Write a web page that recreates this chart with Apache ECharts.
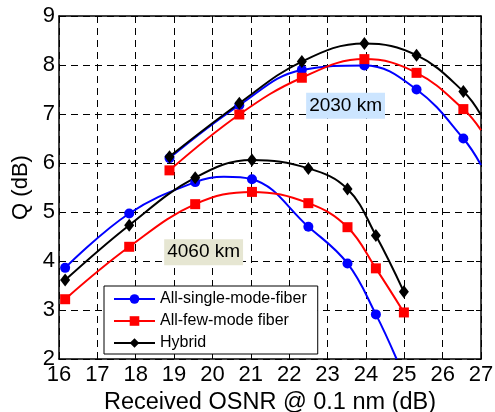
<!DOCTYPE html>
<html>
<head>
<meta charset="utf-8">
<title>Q vs OSNR</title>
<script src="https://cdn.jsdelivr.net/npm/echarts@6/dist/echarts.min.js"></script>
<style>
    html, body { margin: 0; padding: 0; background: #fff; }
    #chart { width: 495px; height: 412px; }
</style>
</head>
<body>
<div id="chart"></div>
<script>
// received OSNR at the measured points (dB)
const osnr2030 = [18.88, 20.70, 22.33, 23.96, 25.32, 26.54];
const osnr4060 = [16.16, 17.83, 19.55, 21.03, 22.50, 23.52, 24.26, 24.99];

// Q (dB) markers, 2030 km
const smf2030 = [6.10, 7.18, 7.90, 7.99, 7.50, 6.50];
const fmf2030 = [5.85, 6.99, 7.74, 8.12, 7.84, 7.10];
const hyb2030 = [6.13, 7.22, 8.07, 8.44, 8.20, 7.46];

// Q (dB) markers, 4060 km
const smf4060 = [3.86, 4.97, 5.61, 5.67, 4.70, 3.95, 2.91, null];
const fmf4060 = [3.22, 4.29, 5.16, 5.41, 5.18, 4.69, 3.85, 2.95];
const hyb4060 = [3.61, 4.73, 5.70, 6.06, 5.89, 5.47, 4.52, 3.37];

// points on the fitted curves where there is no marker
const smf2030Curve = [[27, 5.96]];
const fmf2030Curve = [[27, 6.67]];
const hyb2030Curve = [[27, 6.98]];
const smf4060Curve = [[20.3, 5.72], [24.8, 2.0]];

const seriesNames = ['All-single-mode-fiber', 'All-few-mode fiber', 'Hybrid'];
const xTicks = [16, 27];
const yTicks = [2, 9];

// annotation labels [x, y, text, background]
const notes = [
    [23.47, 7.17, '2030 km', '#cce5ff'],
    [19.77, 4.18, '4060 km', '#e6e6d2']
];

const FONT = '"Liberation Sans", Arial, sans-serif';

// 合并标记点和曲线点
function buildData(xs, ys, curve) {
    const pts = [];
    xs.forEach((x, i) => {
        if (ys[i] != null) pts.push({ value: [x, ys[i]] });
    });
    (curve || []).forEach(p => {
        pts.push({ value: p, symbol: 'none' });
    });
    pts.sort((a, b) => a.value[0] - b.value[0]);
    return pts;
}

const styles = [
    { color: '#0000ff', symbol: 'circle', symbolSize: 10 },
    { color: '#ff0000', symbol: 'rect', symbolSize: 10 },
    { color: '#000000', symbol: 'diamond', symbolSize: [10, 13] }
];

function makeSeries(idx, data) {
    const s = styles[idx];
    return {
        name: seriesNames[idx],
        type: 'line',
        smooth: 0.4,
        data: data,
        symbol: s.symbol,
        symbolSize: s.symbolSize,
        showAllSymbol: true,
        clip: true,
        lineStyle: { color: s.color, width: 2 },
        itemStyle: { color: s.color },
        emphasis: { disabled: true },
        animation: false
    };
}

const series = [
    makeSeries(0, buildData(osnr2030, smf2030, smf2030Curve)),
    makeSeries(1, buildData(osnr2030, fmf2030, fmf2030Curve)),
    makeSeries(2, buildData(osnr2030, hyb2030, hyb2030Curve)),
    makeSeries(0, buildData(osnr4060, smf4060, smf4060Curve)),
    makeSeries(1, buildData(osnr4060, fmf4060)),
    makeSeries(2, buildData(osnr4060, hyb4060))
];

const chart = echarts.init(document.getElementById('chart'));

const boxAxis = {
    show: true,
    axisLine: { show: true, lineStyle: { color: '#000', width: 1.5 } },
    axisTick: { show: true, inside: true, length: 5, lineStyle: { color: '#000' } },
    axisLabel: { show: false },
    splitLine: { show: false }
};

chart.setOption({
    animation: false,
    grid: { left: 59, right: 14, top: 16, bottom: 53, containLabel: false, outerBoundsMode: 'none' },
    legend: {
        data: seriesNames,
        orient: 'vertical',
        left: 104,
        top: 286,
        itemWidth: 41,
        itemHeight: 12,
        itemGap: 6,
        padding: [5, 11, 3, 9],
        backgroundColor: '#fff',
        borderColor: '#000',
        borderWidth: 1,
        borderRadius: 0,
        textStyle: { fontSize: 16, fontFamily: FONT, color: '#000', lineHeight: 16 }
    },
    xAxis: [{
        type: 'value',
        min: xTicks[0],
        max: xTicks[1],
        interval: 1,
        name: 'Received OSNR @ 0.1 nm (dB)',
        nameLocation: 'middle',
        nameGap: 31,
        nameTextStyle: { fontSize: 23.5, fontFamily: FONT, color: '#000' },
        axisLine: { lineStyle: { color: '#000', width: 1.5 } },
        axisTick: { inside: true, length: 5, lineStyle: { color: '#000' } },
        axisLabel: { fontSize: 22, fontFamily: FONT, color: '#000', margin: 5 },
        splitLine: { show: true, lineStyle: { color: '#000', type: [7, 5], width: 1 } }
    }, Object.assign({ type: 'value', position: 'top', min: xTicks[0], max: xTicks[1], interval: 1 }, boxAxis)],
    yAxis: [{
        type: 'value',
        min: yTicks[0],
        max: yTicks[1],
        interval: 1,
        name: 'Q (dB)',
        nameLocation: 'middle',
        nameGap: 25,
        nameTextStyle: { fontSize: 22, fontFamily: FONT, color: '#000' },
        axisLine: { show: true, lineStyle: { color: '#000', width: 1.5 } },
        axisTick: { show: true, inside: true, length: 5, lineStyle: { color: '#000' } },
        axisLabel: { fontSize: 22, fontFamily: FONT, color: '#000', margin: 4 },
        splitLine: { show: true, lineStyle: { color: '#000', type: [7, 5], width: 1 } }
    }, Object.assign({ type: 'value', position: 'right', min: yTicks[0], max: yTicks[1], interval: 1 }, boxAxis)],
    series: series
});

// 标注文字 (2030 km / 4060 km)
const graphics = notes.map(n => {
    const p = chart.convertToPixel({ xAxisIndex: 0, yAxisIndex: 0 }, [n[0], n[1]]);
    return {
        type: 'text',
        x: p[0],
        y: p[1],
        z: 10,
        style: {
            text: n[2],
            fontSize: 19,
            fontFamily: FONT,
            fill: '#000',
            align: 'center',
            verticalAlign: 'middle',
            backgroundColor: n[3],
            padding: [4, 3, 3, 3]
        }
    };
});
chart.setOption({ graphic: graphics });
</script>
</body>
</html>
